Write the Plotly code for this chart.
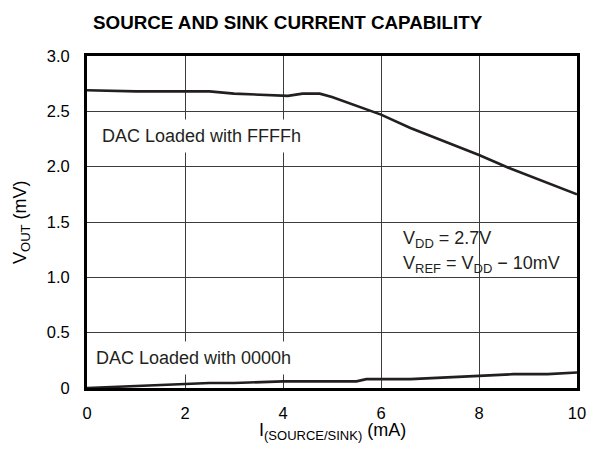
import plotly.graph_objects as go

# Output current (mA) vs output voltage for the two DAC codes
i_ffff = [0, 1.0, 2.0, 2.5, 3.0, 3.5, 4.1, 4.4, 4.75, 5.0, 5.5, 6.0, 6.6, 7.3, 8.0, 8.6, 9.4, 10]
v_ffff = [2.69, 2.68, 2.68, 2.68, 2.66, 2.65, 2.64, 2.66, 2.66, 2.63, 2.55, 2.47, 2.35, 2.23, 2.105, 1.99, 1.85, 1.75]

i_0000 = [0, 1.0, 2.0, 2.5, 3.0, 4.0, 5.0, 5.5, 5.7, 6.6, 8.0, 8.7, 9.4, 10]
v_0000 = [0.0, 0.02, 0.035, 0.045, 0.045, 0.06, 0.06, 0.06, 0.08, 0.08, 0.11, 0.125, 0.125, 0.14]

x_ticks = [0, 2, 4, 6, 8, 10]
x_tick_text = ["0", "2", "4", "6", "8", "10"]
y_ticks = [0, 0.5, 1.0, 1.5, 2.0, 2.5, 3.0]
y_tick_text = ["0", "0.5", "1.0", "1.5", "2.0", "2.5", "3.0"]

W, H = 598, 455
L, R, T, B = 87, 21, 56, 67
PW, PH = W - L - R, H - T - B
FONT = "Arial, Liberation Sans, Helvetica, sans-serif"
INK = "#231f20"
SUB = '<sub><span style="font-size:13px">{}</span></sub>'


def px(xp):
    return (xp - L) / PW


def py(yp):
    return (H - B - yp) / PH


fig = go.Figure()
for xs, ys in [(i_ffff, v_ffff), (i_0000, v_0000)]:
    fig.add_trace(go.Scatter(x=xs, y=ys, mode="lines",
                             line=dict(color=INK, width=2.6),
                             showlegend=False, hoverinfo="skip"))

axis_common = dict(showgrid=True, gridcolor="#3c3c3c", gridwidth=1,
                   zeroline=False, showline=True, linecolor="black",
                   linewidth=3, mirror=True, ticks="",
                   tickfont=dict(family=FONT, size=16.5, color="black"))

fig.update_xaxes(range=[0, 10], tickvals=x_ticks, ticktext=x_tick_text,
                 ticklabelstandoff=8, **axis_common)
fig.update_yaxes(range=[0, 3.0], tickvals=y_ticks, ticktext=y_tick_text,
                 ticklabelstandoff=11, **axis_common)

ann = []
# title
ann.append(dict(text="<b>SOURCE AND SINK CURRENT CAPABILITY</b>",
                x=px(288), y=py(22), xref="paper", yref="paper",
                xanchor="center", yanchor="middle", showarrow=False,
                font=dict(family=FONT, size=18.8, color="black")))
# axis titles
ann.append(dict(text="V" + SUB.format("OUT") + " (mV)", x=px(21), y=py(223),
                xref="paper", yref="paper", xanchor="center", yanchor="middle",
                textangle=-90, showarrow=False,
                font=dict(family=FONT, size=18, color="black")))
ann.append(dict(text="I" + SUB.format("(SOURCE/SINK)") + " (mA)", x=px(332), y=py(431),
                xref="paper", yref="paper", xanchor="center", yanchor="middle",
                showarrow=False,
                font=dict(family=FONT, size=18, color="black")))
# curve labels (white boxes interrupt the grid behind the text)
ann.append(dict(text="DAC Loaded with FFFFh", x=px(95), y=py(136),
                xref="paper", yref="paper", xanchor="left", yanchor="middle",
                showarrow=False, bgcolor="white", borderpad=6,
                font=dict(family=FONT, size=18, color=INK)))
ann.append(dict(text="DAC Loaded with 0000h", x=px(89), y=py(358),
                xref="paper", yref="paper", xanchor="left", yanchor="middle",
                showarrow=False, bgcolor="white", borderpad=6,
                font=dict(family=FONT, size=18, color=INK)))
# supply conditions, on a white patch that sits over the grid but under the data
fig.add_shape(type="rect", xref="paper", yref="paper",
              x0=px(398), x1=px(570), y0=py(275), y1=py(225),
              fillcolor="white", line=dict(width=0), layer="between")
ann.append(dict(text="V" + SUB.format("DD") + " = 2.7V",
                x=px(401), y=py(239), xref="paper", yref="paper",
                xanchor="left", yanchor="middle", align="left",
                showarrow=False,
                font=dict(family=FONT, size=18, color=INK)))
ann.append(dict(text="V" + SUB.format("REF") + " = V" + SUB.format("DD") + " \u2212 10mV",
                x=px(401), y=py(264), xref="paper", yref="paper",
                xanchor="left", yanchor="middle", align="left",
                showarrow=False,
                font=dict(family=FONT, size=18, color=INK)))

fig.update_layout(width=W, height=H, margin=dict(l=L, r=R, t=T, b=B),
                  paper_bgcolor="white", plot_bgcolor="white",
                  annotations=ann, showlegend=False)

fig.write_html("out.html")
